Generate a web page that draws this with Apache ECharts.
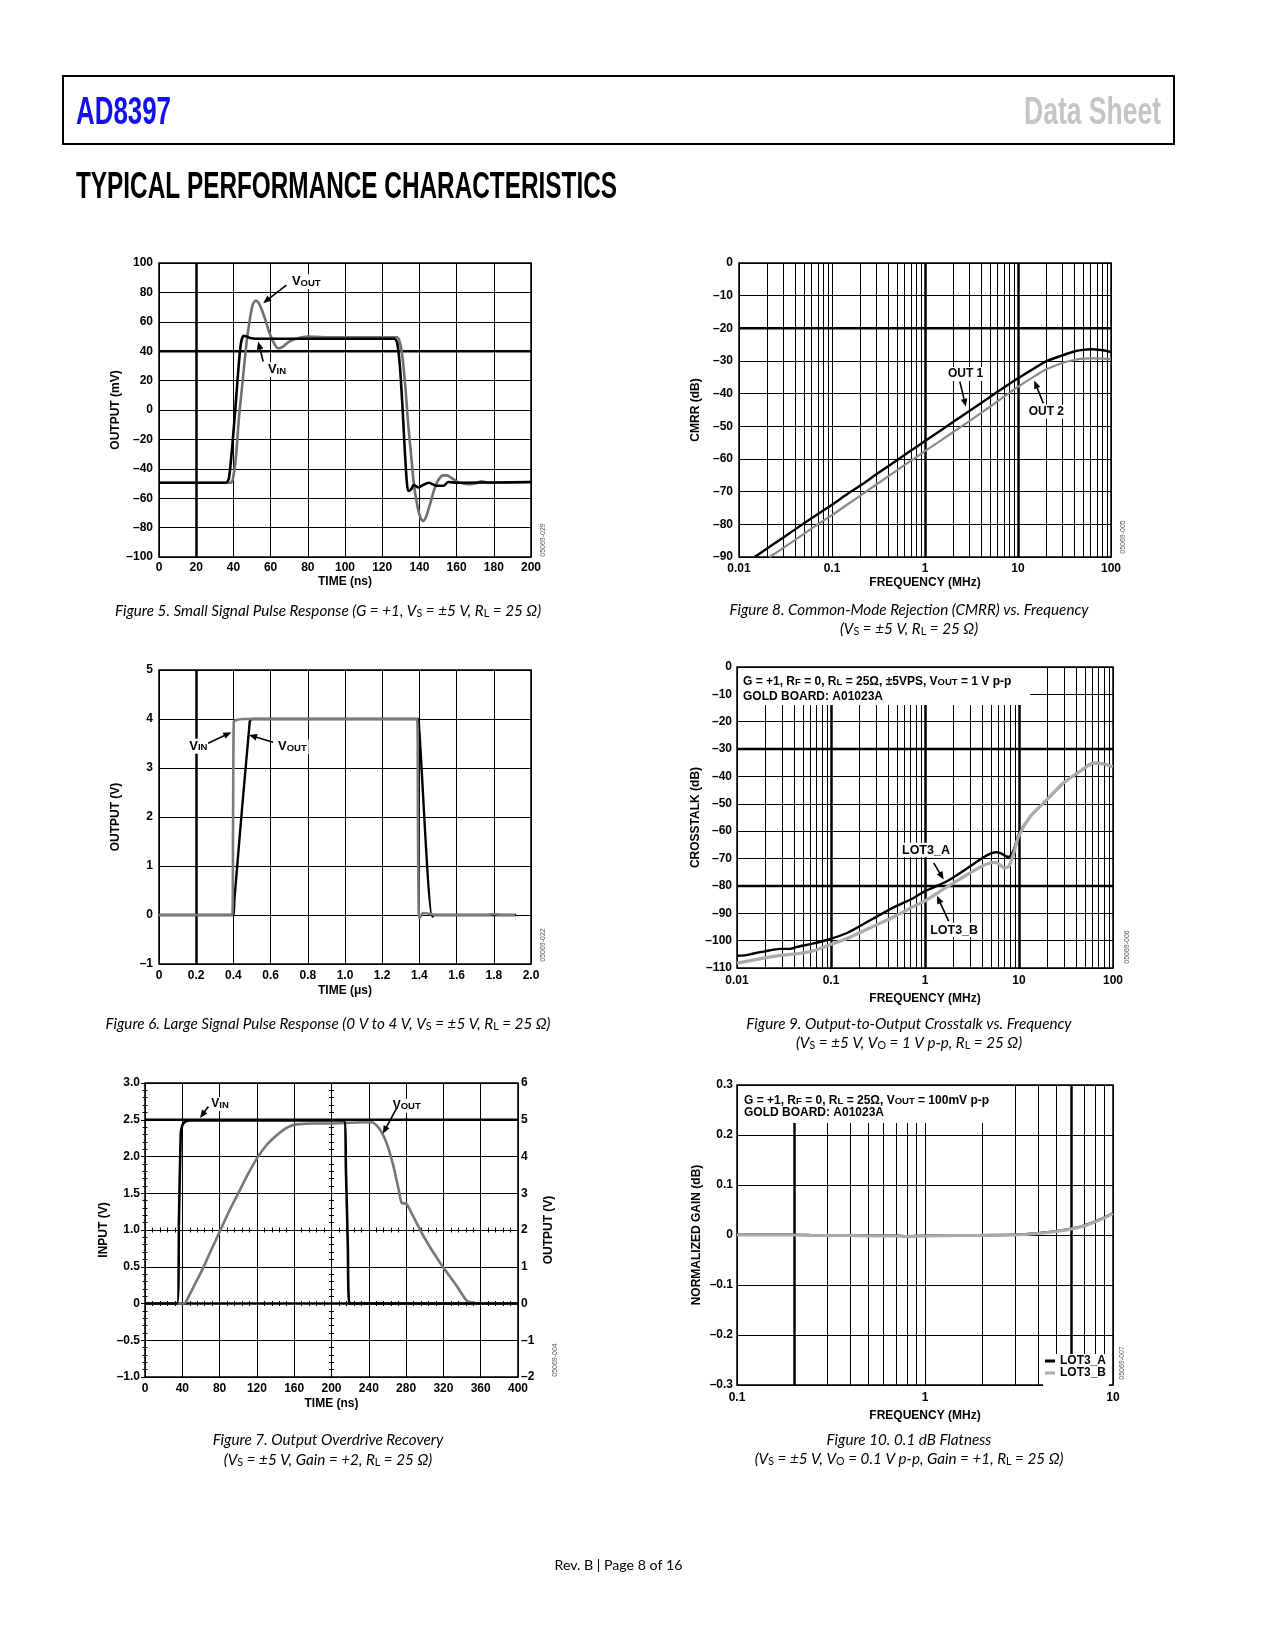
<!DOCTYPE html>
<html><head><meta charset="utf-8">
<script src="https://cdn.jsdelivr.net/npm/echarts@6/dist/echarts.min.js"></script>
<style>html,body{margin:0;padding:0;background:#fff}#c{width:1275px;height:1650px}</style>
</head><body><div id="c"></div>
<script>
// ---------------- DATA ----------------
// Figure 5: small signal pulse response (time ns, mV)
const fig5TimeVin = [0, 36, 37.5, 39, 41, 42.5, 44, 45.5, 47, 49, 52, 126.5, 128, 129.5, 131, 132.5, 134, 135.5, 137, 139.5, 142, 145, 149, 153, 155.5, 160, 200];
const fig5Vin = [-49.5, -49.5, -47, -30, 0, 25, 45, 50.5, 50, 49, 48.5, 48.5, 46, 30, 0, -35, -55, -54, -51, -52.7, -51, -49.5, -51.5, -51.5, -49, -49.5, -49];
const fig5TimeVout = [0, 38.5, 40, 41.5, 43, 45, 47, 49, 50.5, 52, 53.5, 55, 57, 59.5, 62, 64, 66.5, 70, 75, 80, 90, 128, 129.5, 131, 132.5, 134, 135.5, 137, 139, 140.5, 142, 143.5, 145.5, 148, 150.5, 153, 155, 157, 160, 163.5, 167, 170, 173.5, 177, 182, 200];
const fig5Vout = [-49.5, -49.5, -45, -30, -5, 20, 45, 63, 72, 74.5, 73, 69, 62, 52, 45, 42, 43, 46.5, 49, 50, 49.5, 49.5, 46, 35, 15, -10, -30, -50, -66, -73, -75.5, -73, -65, -54, -47, -44.5, -44.5, -46, -48.5, -50, -50.5, -50, -48.5, -49.5, -49.5, -49];

// Figure 8: CMRR vs frequency (MHz, dB)
const fig8FreqOut1 = [0.0147, 0.02, 0.03, 0.05, 0.07, 0.1, 0.15, 0.2, 0.3, 0.5, 0.7, 1, 1.5, 2, 3, 5, 7, 10, 15, 20, 30, 40, 50, 60, 70, 85, 100];
const fig8Out1 = [-90, -87.4, -84, -79.7, -76.9, -74, -70.5, -68.2, -64.7, -60.4, -57.5, -54.5, -51.1, -48.7, -45.3, -41, -38.2, -35.3, -32.2, -30.1, -28.3, -27.1, -26.6, -26.4, -26.5, -26.8, -27.3];
const fig8FreqOut2 = [0.0213, 0.03, 0.05, 0.07, 0.1, 0.15, 0.2, 0.3, 0.5, 0.7, 1, 1.5, 2, 3, 5, 7, 10, 15, 20, 30, 40, 50, 60, 70, 85, 100];
const fig8Out2 = [-90, -87.2, -82.9, -80, -77.2, -73.7, -71.3, -67.8, -63.5, -60.6, -57.6, -54.2, -51.8, -48.4, -44, -41, -37.9, -34.7, -32.6, -30.6, -29.7, -29.3, -29.2, -29.2, -29.3, -29.4];

// Figure 6: large signal pulse response (time us, V)
const fig6TimeVout = [0, 0.400, 0.405, 0.488, 0.50, 1.392, 1.398, 1.469, 1.48, 1.92];
const fig6Vout = [0, 0, 0.3, 3.95, 4.0, 4.0, 3.85, -0.03, 0, 0];
const fig6TimeVin = [0, 0.394, 0.398, 0.402, 0.41, 0.45, 0.6, 1.388, 1.392, 1.396, 1.402, 1.42, 1.5, 1.76, 1.8, 1.84, 1.915];
const fig6Vin = [0, 0, 1.8, 3.95, 3.97, 4.0, 4.0, 4.0, 2.0, 0.05, -0.06, 0.04, 0, 0, 0.02, 0, 0];

// Figure 9: crosstalk vs frequency (MHz, dB)
const fig9FreqA = [0.01, 0.0125, 0.015, 0.0192, 0.0289, 0.0369, 0.0435, 0.0655, 0.098, 0.148, 0.22, 0.334, 0.5, 0.756, 0.99, 1.71, 3.0, 4.2, 4.97, 5.8, 6.5, 7.3, 7.8, 8.8, 9.9, 13.2, 19.8, 29.7, 44.6, 62.3, 79, 100];
const fig9LotA = [-105.5, -105.3, -104.7, -104, -103, -103, -102.3, -101, -99.4, -97.2, -94, -90.5, -87.3, -84.4, -82, -78.3, -72.9, -69.5, -68.2, -67.7, -68.2, -69.2, -69.4, -66.8, -61.3, -54.6, -48.5, -42.4, -38.1, -35.1, -35.4, -36.5];
const fig9FreqB = [0.01, 0.0192, 0.0289, 0.0435, 0.0655, 0.098, 0.148, 0.22, 0.334, 0.5, 0.756, 0.99, 1.71, 3.0, 4.2, 4.97, 5.6, 6.3, 6.9, 7.8, 8.8, 9.9, 13.2, 19.8, 29.7, 44.6, 62.3, 79, 100];
const fig9LotB = [-108.2, -106.4, -105.4, -104.8, -103.7, -101.5, -99.2, -96.5, -93.6, -90.8, -87.5, -85.6, -80.4, -75.3, -72.5, -71.6, -71.4, -72.3, -73.4, -72.8, -68, -61.9, -54.6, -48.5, -42.4, -38.1, -35.1, -35.4, -36.5];

// Figure 7: output overdrive recovery (time ns; input V left axis, output V right axis)
const fig7TimeVin = [0, 34.5, 36.5, 38.3, 39.5, 41, 44, 48, 213.5, 215.5, 217.5, 219.3, 400];
const fig7Vin = [0, 0, 1.2, 2.3, 2.4, 2.45, 2.48, 2.49, 2.49, 1.8, 0.8, 0, 0];
const fig7TimeVout = [0, 42, 44, 48, 55, 62, 70, 80, 90, 100, 110, 120, 130, 140, 150, 158, 165, 180, 200, 220, 243, 250, 256, 261, 266.5, 272, 275.5, 280, 285, 298.7, 316.6, 334.5, 345, 352, 360, 400];
const fig7Vout = [0, 0, 0.05, 0.25, 0.6, 0.95, 1.4, 1.95, 2.5, 3.0, 3.5, 3.95, 4.3, 4.55, 4.75, 4.85, 4.88, 4.9, 4.9, 4.92, 4.93, 4.8, 4.55, 4.23, 3.73, 3.1, 2.73, 2.72, 2.5, 1.83, 1.1, 0.47, 0.08, 0.02, 0, 0];

// Figure 10: 0.1 dB flatness (MHz, dB)
const fig10Freq = [0.1, 0.15, 0.2, 0.25, 0.3, 0.4, 0.5, 0.7, 0.8, 1, 1.5, 2, 3, 4, 5, 6, 7, 8, 9, 10];
const fig10LotA = [0.001, 0.001, 0.001, 0.0, -0.001, -0.001, -0.001, -0.001, -0.002, -0.001, -0.001, 0.0, 0.001, 0.004, 0.008, 0.013, 0.019, 0.027, 0.035, 0.044];
const fig10LotB = [0.0, 0.0, 0.0, -0.001, -0.001, -0.001, -0.002, -0.002, -0.003, -0.002, -0.001, -0.001, 0.0, 0.003, 0.007, 0.012, 0.018, 0.026, 0.034, 0.043];

// ---------------- STYLE / HELPERS ----------------
const AX = '"Liberation Sans", Arial, Helvetica, sans-serif';
const CAP = 'Lato, "Open Sans", sans-serif';
const zip = (xs, ys) => xs.map((x, i) => [x, ys[i]]);
const dash = v => (Math.abs(v) < 1e-9 ? '0' : String(+v.toPrecision(6)).replace('-', '\u2013'));
const dash1 = v => (Math.abs(v) < 1e-9 ? '0' : v.toFixed(1).replace('-', '\u2013'));
const logFmt = v => (v >= 1 ? String(Math.round(v)) : String(parseFloat(v.toPrecision(2))));
const LBL = { color: '#000', fontFamily: AX, fontWeight: 'bold', fontSize: 12 };
const NAME = { color: '#000', fontFamily: AX, fontWeight: 'bold', fontSize: 12 };
const SPLIT = { show: true, lineStyle: { color: '#000', width: 1 } };

function linAxis(grid, min, max, interval, fmt, margin, name, gap, extra) {
  return Object.assign({
    type: 'value', gridIndex: grid, min, max, interval,
    axisLine: { show: false }, axisTick: { show: false }, splitLine: SPLIT,
    axisLabel: Object.assign({}, LBL, { margin, formatter: fmt }),
    name, nameLocation: 'middle', nameGap: gap, nameTextStyle: NAME
  }, extra || {});
}
function logAxis(grid, min, max, margin, name, gap) {
  return {
    type: 'log', logBase: 10, gridIndex: grid, min, max,
    axisLine: { show: false }, axisTick: { show: false }, splitLine: SPLIT,
    minorTick: { show: false }, minorSplitLine: { show: false },
    axisLabel: Object.assign({}, LBL, { margin, formatter: logFmt }),
    name, nameLocation: 'middle', nameGap: gap, nameTextStyle: NAME
  };
}
function logMinors(lo, hi) {
  const out = [];
  for (let d = lo; d < hi * 0.999; d *= 10) for (let k = 2; k <= 9; k++) out.push([+(k * d).toPrecision(3), 1]);
  return out;
}
// gridline layers drawn by the library through the axes' scales
function vLines(xi, yi, yRef, items) {
  return {
    type: 'custom', xAxisIndex: xi, yAxisIndex: yi, silent: true, z: 1, animation: false, clip: false,
    data: items.map(it => [it[0], yRef, it[1]]), encode: { x: 0, y: 1 },
    renderItem: (params, api) => {
      const cs = params.coordSys; const p = api.coord([api.value(0), api.value(1)]);
      const w = api.value(2); const x = w % 2 ? Math.round(p[0]) + 0.5 : Math.round(p[0]);
      return { type: 'line', shape: { x1: x, y1: cs.y, x2: x, y2: cs.y + cs.height }, style: { stroke: '#000', lineWidth: w } };
    }
  };
}
function hLines(xi, yi, xRef, items) {
  return {
    type: 'custom', xAxisIndex: xi, yAxisIndex: yi, silent: true, z: 1, animation: false, clip: false,
    data: items.map(it => [xRef, it[0], it[1]]), encode: { x: 0, y: 1 },
    renderItem: (params, api) => {
      const cs = params.coordSys; const p = api.coord([api.value(0), api.value(1)]);
      const w = api.value(2);
      return { type: 'line', shape: { x1: cs.x, y1: p[1], x2: cs.x + cs.width, y2: p[1] }, style: { stroke: '#000', lineWidth: w } };
    }
  };
}
function lineSeries(name, xi, yi, data, color, width, z) {
  return {
    type: 'line', name, xAxisIndex: xi, yAxisIndex: yi, data, showSymbol: false, symbol: 'none',
    smooth: 0.25, lineStyle: { color, width }, itemStyle: { color }, color, z: z || 2,
    animation: false, silent: true
  };
}

// ---------------- CHART ----------------
const chart = echarts.init(document.getElementById('c'), null, { renderer: 'canvas', width: 1275, height: 1650 });
const gridBase = { show: true, borderColor: '#000', borderWidth: 1.5, backgroundColor: 'transparent', containLabel: false, outerBoundsMode: 'none' };
const grids = [
  Object.assign({ left: 159, top: 263, width: 372, height: 294 }, gridBase), // 0 fig5
  Object.assign({ left: 739, top: 263, width: 372, height: 294 }, gridBase), // 1 fig8
  Object.assign({ left: 159, top: 670, width: 372, height: 294 }, gridBase), // 2 fig6
  Object.assign({ left: 737, top: 667, width: 376, height: 301 }, gridBase), // 3 fig9
  Object.assign({ left: 145, top: 1083, width: 373, height: 294 }, gridBase), // 4 fig7
  Object.assign({ left: 737, top: 1085, width: 376, height: 300 }, gridBase)  // 5 fig10
];
const tickIn = { show: true, inside: true, length: 4, lineStyle: { color: '#000', width: 1 } };
const tickOut = { show: true, inside: false, length: 4, lineStyle: { color: '#000', width: 1 } };
const minIn = { show: true, splitNumber: 5, length: 2.5, lineStyle: { color: '#000', width: 1 } };
const noLbl = { show: false };

const xAxes = [
  linAxis(0, 0, 200, 20, dash, 5, 'TIME (ns)', 19),
  logAxis(1, 0.01, 100, 6, 'FREQUENCY (MHz)', 20),
  linAxis(2, 0, 2, 0.2, dash1, 6, 'TIME (\u03bcs)', 21),
  logAxis(3, 0.01, 100, 7, 'FREQUENCY (MHz)', 25),
  linAxis(4, 0, 400, 40, dash, 6, 'TIME (ns)', 21, { axisTick: tickIn, minorTick: minIn }),
  logAxis(5, 0.1, 10, 7, 'FREQUENCY (MHz)', 25),
  // fig7 extra tick axes (top border, centre line both sides)
  linAxis(4, 0, 400, 40, dash, 6, '', 0, { position: 'top', axisTick: tickIn, minorTick: minIn, axisLabel: noLbl, splitLine: { show: false } }),
  linAxis(4, 0, 400, 40, dash, 6, '', 0, { position: 'bottom', offset: -147, axisTick: tickIn, minorTick: Object.assign({}, minIn), axisLabel: noLbl, splitLine: { show: false } }),
  linAxis(4, 0, 400, 40, dash, 6, '', 0, { position: 'bottom', offset: -147, axisTick: tickOut, minorTick: Object.assign({}, minIn), axisLabel: noLbl, splitLine: { show: false } })
];
const yAxes = [
  linAxis(0, -100, 100, 20, dash, 6, 'OUTPUT (mV)', 37, { nameRotate: 90 }),
  linAxis(1, -90, 0, 10, dash, 6, 'CMRR (dB)', 37, { nameRotate: 90 }),
  linAxis(2, -1, 5, 1, dash, 6, 'OUTPUT (V)', 37, { nameRotate: 90 }),
  linAxis(3, -110, 0, 10, dash, 5, 'CROSSTALK (dB)', 34, { nameRotate: 90 }),
  linAxis(4, -1, 3, 0.5, dash1, 5, 'INPUT (V)', 35, { nameRotate: 90, axisTick: tickIn, minorTick: minIn }),
  linAxis(5, -0.3, 0.3, 0.1, dash1, 4, 'NORMALIZED GAIN (dB)', 34, { nameRotate: 90 }),
  linAxis(4, -2, 6, 1, dash, 3, 'OUTPUT (V)', 25, { position: 'right', nameRotate: 90, axisTick: tickIn, minorTick: minIn, splitLine: { show: false } }),
  linAxis(4, -1, 3, 0.5, dash1, 5, '', 0, { position: 'left', offset: -186.5, axisTick: tickIn, minorTick: Object.assign({}, minIn), axisLabel: noLbl, splitLine: { show: false } }),
  linAxis(4, -1, 3, 0.5, dash1, 5, '', 0, { position: 'left', offset: -186.5, axisTick: tickOut, minorTick: Object.assign({}, minIn), axisLabel: noLbl, splitLine: { show: false } })
];

const series = [
  // fig5
  vLines(0, 0, 0, [[20, 2.5]]), hLines(0, 0, 0, [[40, 2.5]]),
  lineSeries('VIN5', 0, 0, zip(fig5TimeVin, fig5Vin), '#000', 2.6, 3),
  lineSeries('VOUT5', 0, 0, zip(fig5TimeVout, fig5Vout), '#6f6f6f', 2.6, 2),
  // fig8
  vLines(1, 1, -50, logMinors(0.01, 100).concat([[1, 2.5], [10, 2.5]])), hLines(1, 1, 1, [[-20, 2.5]]),
  lineSeries('OUT 1', 1, 1, zip(fig8FreqOut1, fig8Out1), '#000', 2.4, 3),
  lineSeries('OUT 2', 1, 1, zip(fig8FreqOut2, fig8Out2), '#8a8a8a', 2.2, 2),
  // fig6
  vLines(2, 2, 0, [[0.2, 2.5]]),
  lineSeries('VOUT6', 2, 2, zip(fig6TimeVout, fig6Vout), '#000', 2.4, 2),
  lineSeries('VIN6', 2, 2, zip(fig6TimeVin, fig6Vin), '#7b7b7b', 2.6, 3),
  // fig9
  vLines(3, 3, -50, logMinors(0.01, 100).concat([[0.1, 2.5], [1, 2.5], [10, 2.5]])), hLines(3, 3, 1, [[-30, 2.5], [-80, 2.5]]),
  lineSeries('LOT3_A', 3, 3, zip(fig9FreqA, fig9LotA), '#000', 2.4, 2),
  lineSeries('LOT3_B', 3, 3, zip(fig9FreqB, fig9LotB), '#ababab', 3.2, 3),
  // fig7
  hLines(4, 4, 200, [[2.5, 2.5], [0, 2.5]]),
  lineSeries('VOUT7', 4, 6, zip(fig7TimeVout, fig7Vout), '#777777', 2.6, 2),
  lineSeries('VIN7', 4, 4, zip(fig7TimeVin, fig7Vin), '#000', 2.6, 3),
  // fig10
  vLines(5, 5, 0, logMinors(0.1, 10).concat([[0.2, 2.5], [6, 2.5]])),
  lineSeries('LOT3_A', 5, 5, zip(fig10Freq, fig10LotA), '#000', 2.2, 2),
  lineSeries('LOT3_B', 5, 5, zip(fig10Freq, fig10LotB), '#aaaaaa', 3, 3)
];

chart.setOption({
  animation: false,
  backgroundColor: '#fff',
  grid: grids, xAxis: xAxes, yAxis: yAxes, series,
  legend: {
    data: [{ name: 'LOT3_A' }, { name: 'LOT3_B' }], orient: 'vertical', left: 1043, top: 1354,
    itemWidth: 10, itemHeight: 3, itemGap: 0, icon: 'rect', backgroundColor: '#fff', padding: [1, 3, 8, 2],
    selectedMode: false, z: 20,
    textStyle: { fontSize: 12, fontWeight: 'bold', fontFamily: AX, color: '#000', lineHeight: 11 }
  }
});

// ---------------- ANNOTATIONS & PAGE TEXT ----------------
function toRich(str) {
  let out = ''; const re = /_\{([^}]*)\}/g; let last = 0, m;
  while ((m = re.exec(str))) { if (m.index > last) out += '{n|' + str.slice(last, m.index) + '}'; out += '{s|' + m[1] + '}'; last = re.lastIndex; }
  if (last < str.length) out += '{n|' + str.slice(last) + '}';
  return out;
}
const plain = s => s.replace(/_\{([^}]*)\}/g, '$1');
function richStyles(size, sub, drop, family, weight, italic) {
  return {
    n: { fontSize: size, fontFamily: family, fontWeight: weight, fontStyle: italic ? 'italic' : 'normal', fill: '#000', lineHeight: size, verticalAlign: 'top' },
    s: { fontSize: sub, fontFamily: family, fontWeight: weight, fontStyle: 'normal', fill: '#000', lineHeight: sub, verticalAlign: 'bottom', padding: [drop, 0, 0, 0] }
  };
}
function textEl(x, y, str, o) {
  o = o || {};
  const size = o.size || 12, sub = o.sub || 9, drop = o.drop == null ? 6 : o.drop;
  const hasSub = /_\{/.test(str);
  const lh = hasSub ? Math.max(size, sub + drop) : size;
  const st = {
    text: toRich(str), rich: richStyles(size, sub, drop, o.family || AX, o.weight || 'bold', o.italic),
    align: o.align || 'left', textAlign: o.align || 'left', verticalAlign: 'middle', textVerticalAlign: 'middle', fill: '#000'
  };
  if (o.bg) { st.backgroundColor = o.bg; st.padding = o.pad || [1, 2, 1, 2]; }
  return { type: 'text', x, y: y + (lh - size) / 2, scaleX: o.scaleX || 1, rotation: o.rotation || 0, z: o.z || 30, silent: true, style: st };
}
function arrowEls(p0, p1) {
  const dx = p1[0] - p0[0], dy = p1[1] - p0[1], L = Math.hypot(dx, dy), ux = dx / L, uy = dy / L;
  const hl = 8, hw = 3.3;
  const b = [p1[0] - ux * hl, p1[1] - uy * hl];
  return [
    { type: 'line', z: 40, silent: true, shape: { x1: p0[0], y1: p0[1], x2: b[0] + ux, y2: b[1] + uy }, style: { stroke: '#000', lineWidth: 1.6 } },
    { type: 'polygon', z: 40, silent: true, shape: { points: [p1, [b[0] - uy * hw, b[1] + ux * hw], [b[0] + uy * hw, b[1] - ux * hw]] }, style: { fill: '#000' } }
  ];
}
const ann = [
  { ax: [0, 0], text: 'V_{OUT}', at: [70.4, 88.4], size: 13, arrow: [[68.5, 85], [56, 72.7]] },
  { ax: [0, 0], text: 'V_{IN}', at: [57.5, 28.6], size: 13, arrow: [[56, 33], [53.3, 46.6]] },
  { ax: [2, 2], text: 'V_{IN}', at: [0.152, 3.48], size: 13, arrow: [[0.264, 3.505], [0.389, 3.73]] },
  { ax: [2, 2], text: 'V_{OUT}', at: [0.629, 3.47], size: 13, arrow: [[0.613, 3.525], [0.484, 3.675]] },
  { ax: [4, 4], text: 'V_{IN}', at: [69, 2.745], size: 12, arrow: [[68, 2.68], [59, 2.524]] },
  { ax: [4, 4], text: 'V_{OUT}', at: [263.5, 2.72], size: 12, arrow: [[270, 2.66], [255, 2.31]] },
  { ax: [1, 1], text: 'OUT 1', at: [1.68, -34], size: 12, arrow: [[2.37, -36.3], [2.75, -44]] },
  { ax: [1, 1], text: 'OUT 2', at: [12.4, -45.5], size: 12, arrow: [[18.7, -42.95], [14.96, -36]] },
  { ax: [3, 3], text: 'LOT3_A', at: [0.542, -66.9], size: 12.5, arrow: [[1.236, -71.6], [1.58, -77.7]] },
  { ax: [3, 3], text: 'LOT3_B', at: [1.08, -96.1], size: 12.5, arrow: [[1.786, -92.9], [1.34, -83.6]] }
];
const P = (a, pt) => chart.convertToPixel({ xAxisIndex: a[0], yAxisIndex: a[1] }, pt);
const els = [];
ann.forEach(a => {
  const p = P(a.ax, a.at);
  els.push(textEl(p[0], p[1], a.text, { size: a.size, sub: 9.5, drop: 7, bg: '#fff', z: 30 }));
  arrowEls(P(a.ax, a.arrow[0]), P(a.ax, a.arrow[1])).forEach(e => els.push(e));
});

// white boxes with condition text (fig 9, fig 10)
els.push({ type: 'rect', z: 25, silent: true, shape: { x: 738, y: 668, width: 305, height: 20 }, style: { fill: '#fff' } });
els.push({ type: 'rect', z: 25, silent: true, shape: { x: 738, y: 688, width: 292, height: 17 }, style: { fill: '#fff' } });
els.push(textEl(743, 679.5, 'G = +1, R_{F} = 0, R_{L} = 25\u03a9, \u00b15VPS, V_{OUT} = 1 V p-p', { size: 12, sub: 9.5, drop: 6 }));
els.push(textEl(743, 697, 'GOLD BOARD: A01023A', { size: 12 }));
els.push({ type: 'rect', z: 25, silent: true, shape: { x: 738, y: 1086, width: 268, height: 37 }, style: { fill: '#fff' } });
els.push(textEl(744, 1098.5, 'G = +1, R_{F} = 0, R_{L} = 25\u03a9, V_{OUT} = 100mV p-p', { size: 12, sub: 9.5, drop: 6 }));
els.push(textEl(744, 1113, 'GOLD BOARD: A01023A', { size: 12 }));

// figure codes
[['05069-029', 543, 540], ['05069-005', 1123, 537], ['05069-022', 543, 945], ['05069-006', 1127, 947], ['05069-004', 555, 1360], ['05069-007', 1122, 1363]]
  .forEach(c => els.push({ type: 'text', x: c[1], y: c[2], rotation: Math.PI / 2, z: 30, silent: true,
    style: { text: c[0], fontSize: 7, fontFamily: AX, fill: '#555', align: 'center', textAlign: 'center', verticalAlign: 'middle', textVerticalAlign: 'middle' } }));

// captions (widths fitted by measuring)
const mctx = document.createElement('canvas').getContext('2d');
function measure(t, font) { mctx.font = font; return mctx.measureText(t).width; }
const CAPSIZE = 15;
const captions = [
  ['Figure 5. Small Signal Pulse Response (G = +1, V_{S} = \u00b15 V, R_{L} = 25 \u03a9)', 328, 611, 436],
  ['Figure 8. Common-Mode Rejection (CMRR) vs. Frequency', 909, 610, 373],
  ['(V_{S} = \u00b15 V, R_{L} = 25 \u03a9)', 909, 629, 136],
  ['Figure 6. Large Signal Pulse Response (0 V to 4 V, V_{S} = \u00b15 V, R_{L} = 25 \u03a9)', 328, 1024, 452],
  ['Figure 9. Output-to-Output Crosstalk vs. Frequency', 909, 1024, 336],
  ['(V_{S} = \u00b15 V, V_{O} = 1 V p-p, R_{L} = 25 \u03a9)', 909, 1043, 223],
  ['Figure 7. Output Overdrive Recovery', 328, 1440, 239],
  ['(V_{S} = \u00b15 V, Gain = +2, R_{L} = 25 \u03a9)', 328, 1460, 209],
  ['Figure 10. 0.1 dB Flatness', 909, 1440, 165],
  ['(V_{S} = \u00b15 V, V_{O} = 0.1 V p-p, Gain = +1, R_{L} = 25 \u03a9)', 909, 1459, 303]
];
let sc = 0;
captions.forEach(c => { sc += c[3] / measure(plain(c[0]), 'italic ' + CAPSIZE + 'px ' + CAP); });
sc /= captions.length;
sc = Math.max(0.8, Math.min(1.15, sc));
captions.forEach(c => els.push(textEl(c[1], c[2], c[0], { size: CAPSIZE, sub: 10.5, drop: 5.5, family: CAP, weight: 'normal', italic: true, align: 'center', scaleX: sc })));

// header
function fitText(t, x, y, size, family, weight, color, target, align) {
  const s = target / measure(t, weight + ' ' + size + 'px ' + family);
  return { type: 'text', x, y, scaleX: s, z: 30, silent: true,
    style: { text: t, fontSize: size, fontFamily: family, fontWeight: weight, fill: color, align, textAlign: align, verticalAlign: 'middle', textVerticalAlign: 'middle' } };
}
els.push({ type: 'rect', z: 30, silent: true, shape: { x: 63, y: 76, width: 1111, height: 68 }, style: { fill: 'none', stroke: '#000', lineWidth: 2 } });
els.push(fitText('AD8397', 76, 113.5, 38, AX, 'bold', '#1010ee', 95, 'left'));
els.push(fitText('Data Sheet', 1161, 113.5, 38, AX, 'bold', '#c4c4c4', 137, 'right'));
els.push(fitText('TYPICAL PERFORMANCE CHARACTERISTICS', 76, 188, 37, AX, 'bold', '#000', 541, 'left'));
// footer
els.push(fitText('Rev. B | Page 8 of 16', 618.5 - 64, 1565, 14, CAP, 'normal', '#000', 128, 'left'));

chart.setOption({ graphic: { elements: els } });
</script>
</body></html>
